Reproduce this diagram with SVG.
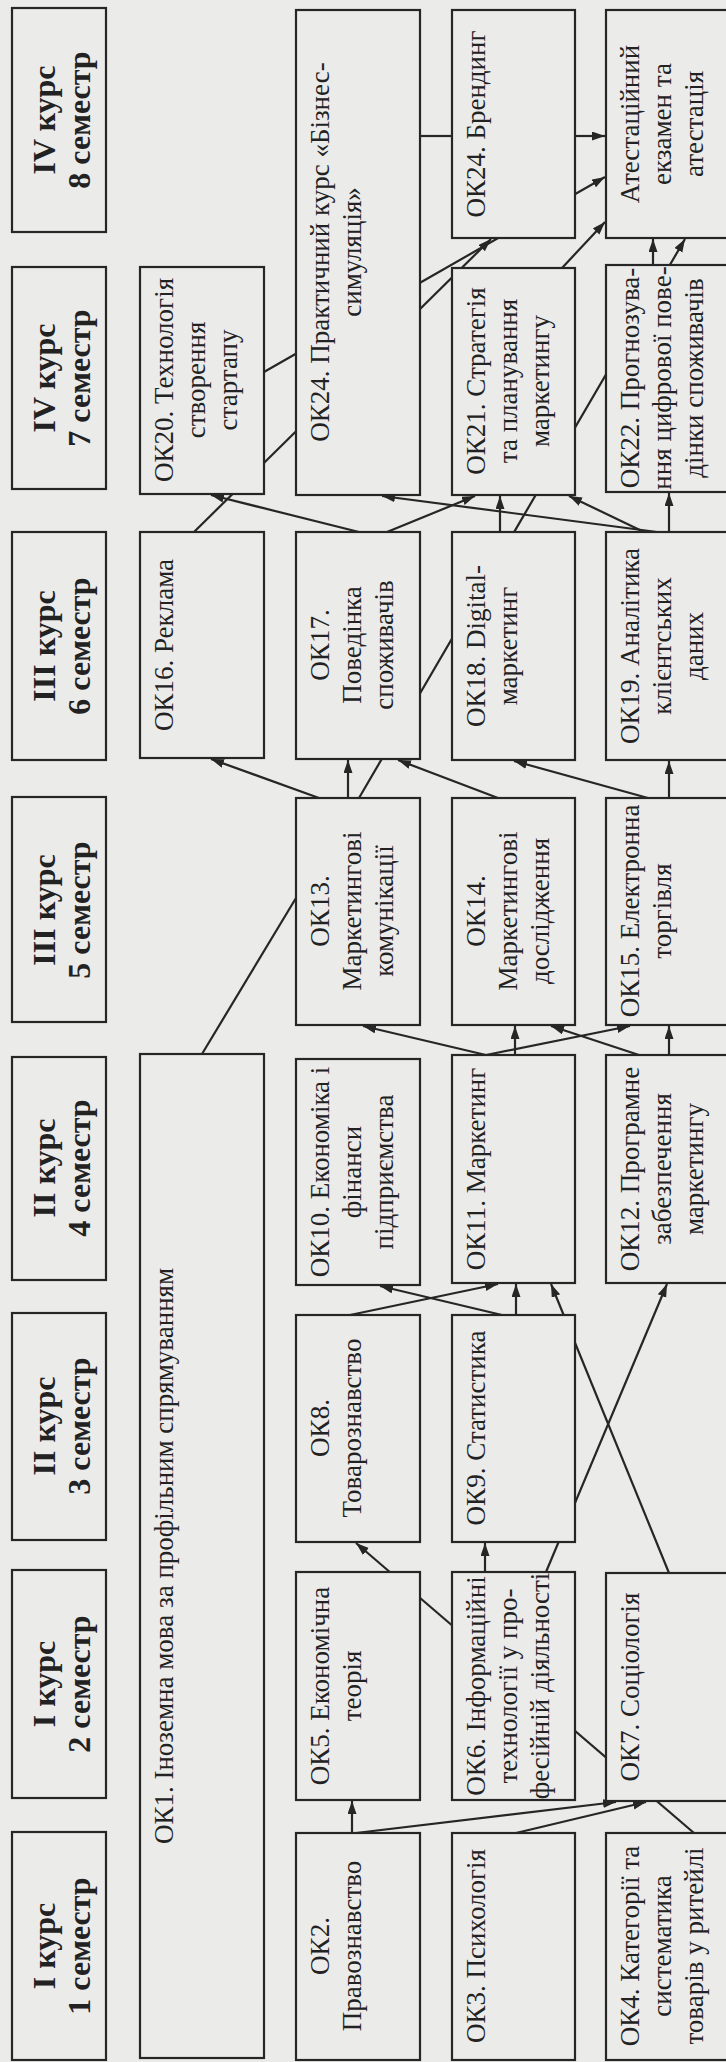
<svg xmlns="http://www.w3.org/2000/svg" width="726" height="2062" viewBox="0 0 726 2062">
<style>
.bg{fill:#ebebea}
.b{fill:#ebebea;stroke:#262626;stroke-width:2.2}
.t{font-family:"Liberation Serif","Times New Roman",serif;font-size:27px;fill:#222;text-anchor:middle}
.h{font-family:"Liberation Serif","Times New Roman",serif;font-size:32px;font-weight:bold;fill:#222;text-anchor:middle}
.c line{stroke:#262626;stroke-width:2.2}
.a{marker-end:url(#ah)}
</style>
<defs>
<marker id="ah" markerUnits="userSpaceOnUse" markerWidth="14" markerHeight="10" refX="13" refY="4.5" orient="auto">
<path d="M0,0 L13,4.5 L0,9 z" fill="#262626"/>
</marker>
</defs>
<rect class="bg" x="0" y="0" width="726" height="2062"/>
<g id="connectors" class="c">
<line class="a" x1="352" y1="1833" x2="352" y2="1801"/>
<line class="a" x1="356" y1="1833" x2="616" y2="1802"/>
<line class="a" x1="516" y1="1833" x2="646" y2="1802"/>
<line class="a" x1="694" y1="1833" x2="356" y2="1543"/>
<line class="a" x1="546" y1="1572" x2="667" y2="1284"/>
<line class="a" x1="669" y1="1573" x2="551" y2="1284"/>
<line class="a" x1="485" y1="1572" x2="485" y2="1543"/>
<line class="a" x1="350" y1="1315" x2="498" y2="1284"/>
<line class="a" x1="502" y1="1315" x2="380" y2="1286"/>
<line class="a" x1="516" y1="1315" x2="516" y2="1284"/>
<line class="a" x1="486" y1="1055" x2="363" y2="1026"/>
<line class="a" x1="515" y1="1055" x2="515" y2="1026"/>
<line class="a" x1="486" y1="1055" x2="630" y2="1026"/>
<line class="a" x1="639" y1="1055" x2="551" y2="1026"/>
<line class="a" x1="669" y1="1055" x2="669" y2="1026"/>
<line x1="296" y1="898" x2="202" y2="1054"/>
<line class="a" x1="319" y1="798" x2="211" y2="759"/>
<line class="a" x1="348" y1="798" x2="348" y2="760"/>
<line class="a" x1="359" y1="798" x2="685" y2="239"/>
<line class="a" x1="498" y1="798" x2="398" y2="760"/>
<line class="a" x1="648" y1="798" x2="514" y2="761"/>
<line class="a" x1="669" y1="798" x2="669" y2="761"/>
<line class="a" x1="194" y1="532" x2="491" y2="239"/>
<line class="a" x1="359" y1="532" x2="211" y2="495"/>
<line class="a" x1="387" y1="532" x2="475" y2="496"/>
<line class="a" x1="500" y1="532" x2="500" y2="496"/>
<line class="a" x1="657" y1="532" x2="382" y2="496"/>
<line class="a" x1="644" y1="532" x2="569" y2="496"/>
<line class="a" x1="669" y1="532" x2="669" y2="493"/>
<line class="a" x1="264" y1="372" x2="605" y2="177"/>
<line x1="420" y1="136" x2="452" y2="136"/>
<line class="a" x1="575" y1="136" x2="605" y2="136"/>
<line class="a" x1="562" y1="268" x2="605" y2="222"/>
<line class="a" x1="653" y1="265" x2="653" y2="239"/>
</g>
<g id="h8"><rect class="b" x="12" y="8" width="94" height="224"/><text class="h" transform="translate(12,120) rotate(-90)"><tspan x="0" y="43">IV курс</tspan><tspan x="0" y="78">8 семестр</tspan></text></g>
<g id="h7"><rect class="b" x="12" y="267" width="94" height="222"/><text class="h" transform="translate(12,378) rotate(-90)"><tspan x="0" y="43">IV курс</tspan><tspan x="0" y="78">7 семестр</tspan></text></g>
<g id="h6"><rect class="b" x="12" y="532" width="94" height="228"/><text class="h" transform="translate(12,646) rotate(-90)"><tspan x="0" y="43">III курс</tspan><tspan x="0" y="78">6 семестр</tspan></text></g>
<g id="h5"><rect class="b" x="12" y="797" width="94" height="225"/><text class="h" transform="translate(12,910) rotate(-90)"><tspan x="0" y="43">III курс</tspan><tspan x="0" y="78">5 семестр</tspan></text></g>
<g id="h4"><rect class="b" x="12" y="1057" width="94" height="223"/><text class="h" transform="translate(12,1168) rotate(-90)"><tspan x="0" y="43">II курс</tspan><tspan x="0" y="78">4 семестр</tspan></text></g>
<g id="h3"><rect class="b" x="12" y="1313" width="94" height="227"/><text class="h" transform="translate(12,1426) rotate(-90)"><tspan x="0" y="43">II курс</tspan><tspan x="0" y="78">3 семестр</tspan></text></g>
<g id="h2"><rect class="b" x="12" y="1570" width="94" height="228"/><text class="h" transform="translate(12,1684) rotate(-90)"><tspan x="0" y="43">I курс</tspan><tspan x="0" y="78">2 семестр</tspan></text></g>
<g id="h1"><rect class="b" x="12" y="1832" width="94" height="228"/><text class="h" transform="translate(12,1946) rotate(-90)"><tspan x="0" y="43">I курс</tspan><tspan x="0" y="78">1 семестр</tspan></text></g>
<g id="ok20"><rect class="b" x="140" y="267" width="124" height="227"/><text class="t" transform="translate(140,380) rotate(-90)"><tspan x="0" y="33">ОК20. Технологія</tspan><tspan x="0" y="65">створення</tspan><tspan x="0" y="97">стартапу</tspan></text></g>
<g id="ok16"><rect class="b" x="140" y="532" width="124" height="226"/><text class="t" transform="translate(140,645) rotate(-90)"><tspan x="0" y="33">ОК16. Реклама</tspan></text></g>
<g id="ok1"><rect class="b" x="140" y="1054" width="124" height="1004"/><text class="t" transform="translate(140,1556) rotate(-90)"><tspan x="0" y="33">ОК1. Іноземна мова за профільним спрямуванням</tspan></text></g>
<g id="ok24p"><rect class="b" x="296" y="10" width="124" height="485"/><text class="t" transform="translate(296,252) rotate(-90)"><tspan x="0" y="33">ОК24. Практичний курс «Бізнес-</tspan><tspan x="0" y="65">симуляція»</tspan></text></g>
<g id="ok17"><rect class="b" x="296" y="532" width="124" height="227"/><text class="t" transform="translate(296,645) rotate(-90)"><tspan x="0" y="33">ОК17.</tspan><tspan x="0" y="65">Поведінка</tspan><tspan x="0" y="97">споживачів</tspan></text></g>
<g id="ok13"><rect class="b" x="296" y="798" width="124" height="227"/><text class="t" transform="translate(296,911) rotate(-90)"><tspan x="0" y="33">ОК13.</tspan><tspan x="0" y="65">Маркетингові</tspan><tspan x="0" y="97">комунікації</tspan></text></g>
<g id="ok10"><rect class="b" x="296" y="1059" width="124" height="226"/><text class="t" transform="translate(296,1172) rotate(-90)"><tspan x="0" y="33">ОК10. Економіка і</tspan><tspan x="0" y="65">фінанси</tspan><tspan x="0" y="97">підприємства</tspan></text></g>
<g id="ok8"><rect class="b" x="296" y="1315" width="124" height="227"/><text class="t" transform="translate(296,1428) rotate(-90)"><tspan x="0" y="33">ОК8.</tspan><tspan x="0" y="65">Товарознавство</tspan></text></g>
<g id="ok5"><rect class="b" x="296" y="1572" width="124" height="228"/><text class="t" transform="translate(296,1686) rotate(-90)"><tspan x="0" y="33">ОК5. Економічна</tspan><tspan x="0" y="65">теорія</tspan></text></g>
<g id="ok2"><rect class="b" x="296" y="1833" width="124" height="227"/><text class="t" transform="translate(296,1946) rotate(-90)"><tspan x="0" y="33">ОК2.</tspan><tspan x="0" y="65">Правознавство</tspan></text></g>
<g id="ok24b"><rect class="b" x="452" y="10" width="123" height="228"/><text class="t" transform="translate(452,124) rotate(-90)"><tspan x="0" y="33">ОК24. Брендинг</tspan></text></g>
<g id="ok21"><rect class="b" x="452" y="268" width="123" height="227"/><text class="t" transform="translate(452,381) rotate(-90)"><tspan x="0" y="33">ОК21. Стратегія</tspan><tspan x="0" y="65">та планування</tspan><tspan x="0" y="97">маркетингу</tspan></text></g>
<g id="ok18"><rect class="b" x="452" y="532" width="123" height="228"/><text class="t" transform="translate(452,646) rotate(-90)"><tspan x="0" y="33">ОК18. Digital-</tspan><tspan x="0" y="65">маркетинг</tspan></text></g>
<g id="ok14"><rect class="b" x="452" y="798" width="123" height="227"/><text class="t" transform="translate(452,911) rotate(-90)"><tspan x="0" y="33">ОК14.</tspan><tspan x="0" y="65">Маркетингові</tspan><tspan x="0" y="97">дослідження</tspan></text></g>
<g id="ok11"><rect class="b" x="452" y="1055" width="123" height="228"/><text class="t" transform="translate(452,1169) rotate(-90)"><tspan x="0" y="33">ОК11. Маркетинг</tspan></text></g>
<g id="ok9"><rect class="b" x="452" y="1315" width="123" height="227"/><text class="t" transform="translate(452,1428) rotate(-90)"><tspan x="0" y="33">ОК9. Статистика</tspan></text></g>
<g id="ok6"><rect class="b" x="452" y="1572" width="123" height="228"/><text class="t" transform="translate(452,1686) rotate(-90)"><tspan x="0" y="33">ОК6. Інформаційні</tspan><tspan x="0" y="65">технології у про-</tspan><tspan x="0" y="97">фесійній діяльності</tspan></text></g>
<g id="ok3"><rect class="b" x="452" y="1833" width="123" height="227"/><text class="t" transform="translate(452,1946) rotate(-90)"><tspan x="0" y="33">ОК3. Психологія</tspan></text></g>
<g id="att"><rect class="b" x="606" y="10" width="140" height="228"/><text class="t" transform="translate(606,124) rotate(-90)"><tspan x="0" y="33">Атестаційний</tspan><tspan x="0" y="65">екзамен та</tspan><tspan x="0" y="97">атестація</tspan></text></g>
<g id="ok22"><rect class="b" x="606" y="265" width="140" height="227"/><text class="t" transform="translate(606,378) rotate(-90)"><tspan x="0" y="33">ОК22. Прогнозува-</tspan><tspan x="0" y="65">ння цифрової пове-</tspan><tspan x="0" y="97">дінки споживачів</tspan></text></g>
<g id="ok19"><rect class="b" x="606" y="532" width="140" height="228"/><text class="t" transform="translate(606,646) rotate(-90)"><tspan x="0" y="33">ОК19. Аналітика</tspan><tspan x="0" y="65">клієнтських</tspan><tspan x="0" y="97">даних</tspan></text></g>
<g id="ok15"><rect class="b" x="606" y="798" width="140" height="227"/><text class="t" transform="translate(606,911) rotate(-90)"><tspan x="0" y="33">ОК15. Електронна</tspan><tspan x="0" y="65">торгівля</tspan></text></g>
<g id="ok12"><rect class="b" x="606" y="1055" width="140" height="228"/><text class="t" transform="translate(606,1169) rotate(-90)"><tspan x="0" y="33">ОК12. Програмне</tspan><tspan x="0" y="65">забезпечення</tspan><tspan x="0" y="97">маркетингу</tspan></text></g>
<g id="ok7"><rect class="b" x="606" y="1573" width="140" height="228"/><text class="t" transform="translate(606,1687) rotate(-90)"><tspan x="0" y="33">ОК7. Соціологія</tspan></text></g>
<g id="ok4"><rect class="b" x="606" y="1833" width="140" height="227"/><text class="t" transform="translate(606,1946) rotate(-90)"><tspan x="0" y="33">ОК4. Категорії та</tspan><tspan x="0" y="65">систематика</tspan><tspan x="0" y="97">товарів у ритейлі</tspan></text></g>
</svg>
